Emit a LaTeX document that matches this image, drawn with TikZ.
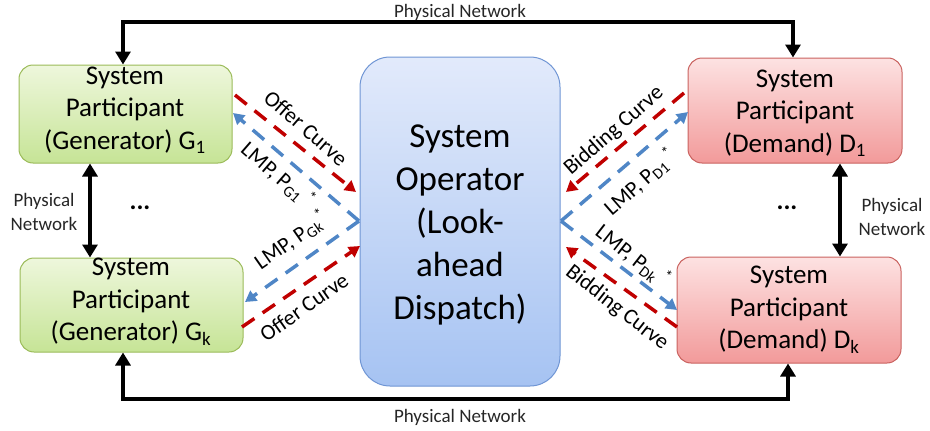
\documentclass[tikz,border=0pt]{standalone}
\usepackage{fontspec}
\setmainfont{Carlito}
\usetikzlibrary{arrows.meta}
\definecolor{gtop}{HTML}{EEF7DC}
\definecolor{gbot}{HTML}{C6E496}
\definecolor{gline}{HTML}{9BBB59}
\definecolor{rtop}{HTML}{FDE2E2}
\definecolor{rbot}{HTML}{F29A9A}
\definecolor{rline}{HTML}{C9625F}
\definecolor{btop}{HTML}{E2EAFB}
\definecolor{bbot}{HTML}{A6C3F2}
\definecolor{bline}{HTML}{6F95D4}
\definecolor{dred}{HTML}{C00000}
\definecolor{dblue}{HTML}{4F86C6}
\begin{document}
\begin{tikzpicture}[x=1pt,y=-1pt,
  box/.style={line width=1pt, rounded corners=14pt, inner sep=0pt},
  genbox/.style={box, draw=gline, top color=gtop, bottom color=gbot},
  dembox/.style={box, draw=rline, top color=rtop, bottom color=rbot},
  opbox/.style={box, draw=bline, top color=btop, bottom color=bbot, rounded corners=30pt},
  boxtext/.style={align=center, font=\fontsize{27}{32.5}\selectfont},
  optext/.style={align=center, font=\fontsize{35}{43}\selectfont},
  nettext/.style={align=center, font=\fontsize{19}{24}\selectfont, text=black!85},
  difftext/.style={font=\fontsize{22}{26}\selectfont, inner sep=0pt},
  net/.style={line width=4pt, -{Triangle[length=13pt,width=15pt]}},
  netboth/.style={line width=4pt, {Triangle[length=13pt,width=15pt]}-{Triangle[length=13pt,width=15pt]}},
  reddash/.style={dred, line width=3.5pt, dash pattern=on 15pt off 10pt, -{Triangle[length=11pt,width=12pt]}},
  bluedash/.style={dblue, line width=3.5pt, dash pattern=on 15pt off 10pt, -{Triangle[length=11pt,width=12pt]}},
  dots/.style={font=\fontsize{26}{26}\selectfont\bfseries}
]
\useasboundingbox (0,0) rectangle (930,431);

% participant and operator boxes
\node[genbox, minimum width=213pt, minimum height=98pt] (g1) at (125.5,114) {};
\node[genbox, minimum width=223pt, minimum height=94pt] (gk) at (131.5,305) {};
\node[opbox, minimum width=200pt, minimum height=329pt] (so) at (460,221.5) {};
\node[dembox, minimum width=214pt, minimum height=105pt] (d1) at (795,110.5) {};
\node[dembox, minimum width=224pt, minimum height=106pt] (dk) at (789,310) {};

\node[boxtext] (g1t) at (125,110) {System\\Participant\\(Generator) G\textsubscript{1}};
\node[boxtext] (gkt) at (131,302) {System\\Participant\\(Generator) G\textsubscript{k}};
\node[boxtext] (d1t) at (795,113) {System\\Participant\\(Demand) D\textsubscript{1}};
\node[boxtext] (dkt) at (789,310) {System\\Participant\\(Demand) D\textsubscript{k}};
\node[optext] (sot) at (460,225) {System\\Operator\\(Look-\\ahead\\Dispatch)};

% physical network, top and bottom
\coordinate (tl) at (123,22);
\coordinate (tr) at (793,22);
\coordinate (bl) at (123,399);
\coordinate (br) at (788,399);
\draw[net] (tr) -- (tl) -- (g1.north -| tl);
\draw[net] (tl) -- (tr) -- (d1.north -| tr);
\draw[net] (br) -- (bl) -- (gk.south -| bl);
\draw[net] (bl) -- (br) -- (dk.south -| br);
\node[nettext] (ntop) at (460,12) {Physical Network};
\node[nettext] (nbot) at (460,417) {Physical Network};

% physical network, left and right
\coordinate (lx) at (90,0);
\coordinate (rx) at (840,0);
\draw[netboth] (g1.south -| lx) -- (gk.north -| lx);
\draw[netboth] (d1.south -| rx) -- (dk.north -| rx);
\node[nettext] (nleft) at (44,212) {Physical\\Network};
\node[nettext] (nright) at (892,217) {Physical\\Network};
\node[dots] (dl) at (140,208) {...};
\node[dots] (dr) at (787,208) {...};

% generator side exchanges
\coordinate (g1r) at (235,95);
\coordinate (g1b) at (233,113);
\coordinate (gkb) at (245,302);
\coordinate (gkr) at (242,327);
\coordinate (sl1) at (356,192);
\coordinate (slb) at (359,221);
\coordinate (sl2) at (360,246);
\draw[reddash] (g1r) -- (sl1);
\draw[bluedash] (slb) -- (g1b);
\draw[bluedash] (slb) -- (gkb);
\draw[reddash] (gkr) -- (sl2);
\node[difftext, rotate=-41] (oc1) at (306,128) {Offer Curve};
\node[difftext, rotate=-41] (lg1) at (278,175) {LMP, P\textsubscript{G1}\,\textsuperscript{*}};
\node[difftext, rotate=35] (lgk) at (291,240) {LMP, P\textsubscript{Gk}\textsuperscript{*}};
\node[difftext, rotate=35] (ock) at (304,307) {Offer Curve};

% demand side exchanges
\coordinate (d1r) at (684,93);
\coordinate (d1b) at (688,112);
\coordinate (dkb) at (677,310);
\coordinate (dkr) at (677,327);
\coordinate (sr1) at (566,192);
\coordinate (srb) at (561,221);
\coordinate (sr2) at (566,247);
\draw[reddash] (d1r) -- (sr1);
\draw[bluedash] (srb) -- (d1b);
\draw[bluedash] (srb) -- (dkb);
\draw[reddash] (dkr) -- (sr2);
\node[difftext, rotate=41] (bc1) at (614,131) {Bidding Curve};
\node[difftext, rotate=41] (ld1) at (640,182) {LMP, P\textsubscript{D1}\,\textsuperscript{*}};
\node[difftext, rotate=-38] (ldk) at (633,256) {LMP, P\textsubscript{Dk}\,\textsuperscript{*}};
\node[difftext, rotate=-38] (bck) at (617,308) {Bidding Curve};
\end{tikzpicture}
\end{document}
